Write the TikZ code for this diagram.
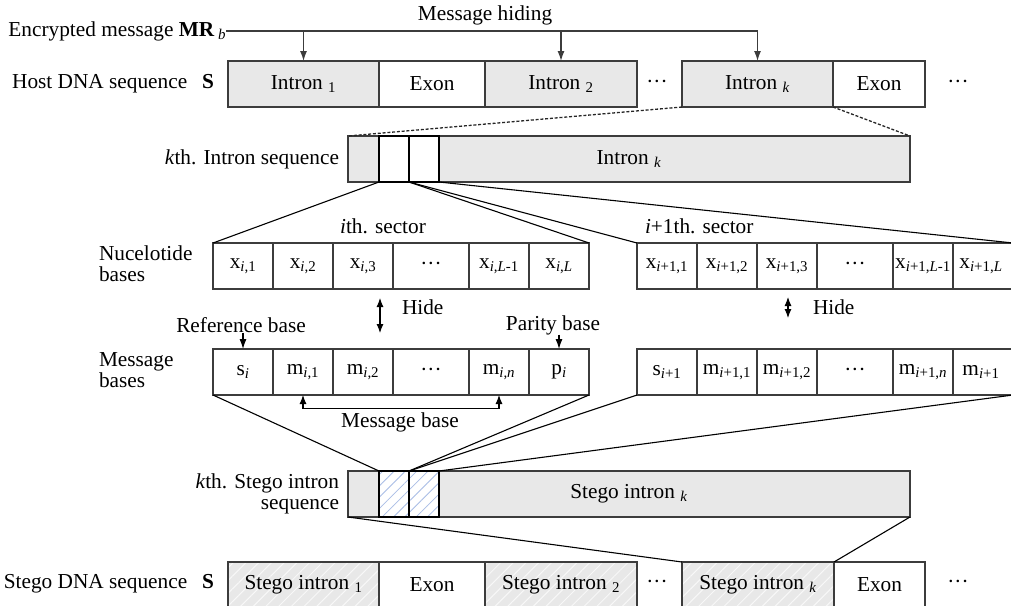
\documentclass[tikz,border=0pt]{standalone}
\usepackage{fontspec}
\setmainfont{Liberation Serif}
\usetikzlibrary{arrows.meta,patterns.meta}
\definecolor{introngray}{HTML}{E8E8E8}
\definecolor{edgegray}{HTML}{3C3C3C}
\definecolor{hatchblue}{HTML}{A9BDE6}
\definecolor{stripe}{HTML}{F8F8F8}
\newcommand{\hdots}{\char"B7\char"B7\char"B7}

\begin{document}
\begin{tikzpicture}[x=1pt,y=-1pt]
  \tikzstyle{every node}+=[inner sep=0pt, outer sep=0pt, font=\fontsize{21.3}{21}\selectfont]
  \tikzstyle{cell}=[draw=edgegray, line width=1.4pt, fill=white, anchor=north west, minimum height=46pt]
  \tikzstyle{intron}=[cell, fill=introngray]
  \tikzstyle{stegointron}=[cell, preaction={fill=introngray}, pattern={Lines[angle=45,distance=9pt,line width=1pt]}, pattern color=stripe]
  \tikzstyle{slot}=[cell, draw=black, line width=2.4pt, minimum width=30pt]
  \tikzstyle{stegoslot}=[slot, preaction={fill=white}, pattern={Lines[angle=45,distance=8pt,line width=0.8pt]}, pattern color=hatchblue]
  \tikzstyle{tip}=[-{Latex[length=10pt,width=7pt]}]
  \tikzstyle{twotips}=[{Latex[length=9pt,width=7pt]}-{Latex[length=9pt,width=7pt]}]
  \tikzstyle{link}=[black, line width=1.1pt]
  \useasboundingbox (0,0) rectangle (1011,605);
  % host DNA
  \draw (226,31) node[anchor=east] (enc) {Encrypted message \textbf{MR}\,\textsubscript{\textit{b}}};
  \draw (485,15) node (hiding) {Message hiding};
  \draw (214,84) node[anchor=east] (host) {Host DNA sequence\hspace{0.7em}\textbf{S}};
  \draw (228,61) node[intron, minimum width=151pt] (int1) {Intron \textsubscript{1}};
  \draw (379,61) node[cell, minimum width=106pt] (ex1) {Exon};
  \draw (485,61) node[intron, minimum width=152pt] (int2) {Intron \textsubscript{2}};
  \draw (657,84) node (hdots1) {\hdots};
  \draw (682,61) node[intron, minimum width=151pt] (intk) {Intron \textsubscript{\textit{k}}};
  \draw (833,61) node[cell, minimum width=92pt] (ex2) {Exon};
  \draw (958,84) node (hdots2) {\hdots};
  \draw [edgegray, line width=1.3pt, tip] (enc.east) -| (intk.north);
  \draw [edgegray, line width=1.3pt, tip] (int1.north |- enc.east) -- (int1.north);
  \draw [edgegray, line width=1.3pt, tip] (int2.north |- enc.east) -- (int2.north);
  % kth intron
  \draw (339,159) node[anchor=east] (kname) {\textit{k}th. Intron sequence};
  \draw (348,136) node[intron, minimum width=562pt] (kseq) {Intron \textsubscript{\textit{k}}};
  \draw (379,136) node[slot] (kb1) {};
  \draw (409,136) node[slot] (kb2) {};
  \draw [black!85, line width=1.3pt, dash pattern=on 3pt off 1.8pt] (intk.south west) -- (kseq.north west);
  \draw [black!85, line width=1.3pt, dash pattern=on 3pt off 1.8pt] (intk.south east) -- (kseq.north east);
  % sectors
  \draw (99,264) node[anchor=west, align=left] (nname) {Nucelotide\\bases};
  \draw (99,370) node[anchor=west, align=left] (mname) {Message\\bases};
  \draw (383,226) node (seca) {\textit{i}th. sector};
  \draw (645,226) node[anchor=west] (secb) {\textit{i}+1th. sector};
  \draw (213,243) node[cell, minimum width=60pt] (xa1) {x\textsubscript{\textit{i},1}};
  \draw (273,243) node[cell, minimum width=60pt] (xa2) {x\textsubscript{\textit{i},2}};
  \draw (333,243) node[cell, minimum width=60pt] (xa3) {x\textsubscript{\textit{i},3}};
  \draw (393,243) node[cell, minimum width=76pt] (xa4) {\hdots};
  \draw (469,243) node[cell, minimum width=60pt] (xa5) {x\textsubscript{\textit{i},\textit{L}-1}};
  \draw (529,243) node[cell, minimum width=60pt] (xa6) {x\textsubscript{\textit{i},\textit{L}}};
  \draw (637,243) node[cell, minimum width=60pt] (xb1) {x\textsubscript{\textit{i}+1,1}};
  \draw (697,243) node[cell, minimum width=60pt] (xb2) {x\textsubscript{\textit{i}+1,2}};
  \draw (757,243) node[cell, minimum width=60pt] (xb3) {x\textsubscript{\textit{i}+1,3}};
  \draw (817,243) node[cell, minimum width=76pt] (xb4) {\hdots};
  \draw (893,243) node[cell, minimum width=60pt] (xb5) {x\textsubscript{\textit{i}+1,\textit{L}-1}};
  \draw (953,243) node[cell, minimum width=60pt] (xb6) {\hspace{-4pt}x\textsubscript{\textit{i}+1,\textit{L}}};
  \draw (213,349) node[cell, minimum width=60pt] (ma1) {s\textsubscript{\textit{i}}};
  \draw (273,349) node[cell, minimum width=60pt] (ma2) {m\textsubscript{\textit{i},1}};
  \draw (333,349) node[cell, minimum width=60pt] (ma3) {m\textsubscript{\textit{i},2}};
  \draw (393,349) node[cell, minimum width=76pt] (ma4) {\hdots};
  \draw (469,349) node[cell, minimum width=60pt] (ma5) {m\textsubscript{\textit{i},\textit{n}}};
  \draw (529,349) node[cell, minimum width=60pt] (ma6) {p\textsubscript{\textit{i}}};
  \draw (637,349) node[cell, minimum width=60pt] (mb1) {s\textsubscript{\textit{i}+1}};
  \draw (697,349) node[cell, minimum width=60pt] (mb2) {m\textsubscript{\textit{i}+1,1}};
  \draw (757,349) node[cell, minimum width=60pt] (mb3) {m\textsubscript{\textit{i}+1,2}};
  \draw (817,349) node[cell, minimum width=76pt] (mb4) {\hdots};
  \draw (893,349) node[cell, minimum width=60pt] (mb5) {m\textsubscript{\textit{i}+1,\textit{n}}};
  \draw (953,349) node[cell, minimum width=60pt] (mb6) {\hspace{-4pt}m\textsubscript{\textit{i}+1}};
  \draw [link] (kb1.south west) -- (xa1.north west);
  \draw [link] (kb1.south east) -- (xa6.north east);
  \draw [link] (kb2.south west) -- (xb1.north west);
  \draw [link] (kb2.south east) -- (xb6.north east);
  % hide arrows and base labels
  \coordinate (hidea1) at (380,298);
  \coordinate (hidea2) at (380,333);
  \coordinate (hideb1) at (788,297);
  \coordinate (hideb2) at (788,318);
  \draw [link, twotips] (hidea1) -- (hidea2);
  \draw [link, twotips] (hideb1) -- (hideb2);
  \draw (402,307) node[anchor=west] (hidea) {Hide};
  \draw (813,307) node[anchor=west] (hideb) {Hide};
  \draw (241,325) node (refb) {Reference base};
  \draw (553,325) node (parb) {Parity base};
  \draw [link, tip] (refb.south -| ma1.north) -- (ma1.north);
  \draw [link, tip] (parb.south -| ma6.north) -- (ma6.north);
  \draw [link, twotips] (ma2.south) -- ++(0,13.5) -| (ma5.south);
  \draw (400,422) node (msgb) {Message base};
  % stego intron
  \draw (339,494) node[anchor=east, align=right] (sname) {\textit{k}th. Stego intron\\sequence};
  \draw (348,471) node[intron, minimum width=562pt] (kstego) {Stego intron \textsubscript{\textit{k}}};
  \draw (379,471) node[stegoslot] (sb1) {};
  \draw (409,471) node[stegoslot] (sb2) {};
  \draw [link] (ma1.south west) -- (sb1.north west);
  \draw [link] (ma6.south east) -- (sb1.north east);
  \draw [link] (mb1.south west) -- (sb2.north west);
  \draw [link] (mb6.south east) -- (sb2.north east);
  % stego DNA
  \draw (214,584) node[anchor=east] (stego) {Stego DNA sequence\hspace{0.7em}\textbf{S}};
  \draw (228,562) node[stegointron, minimum width=151pt] (sint1) {Stego intron \textsubscript{1}};
  \draw (379,562) node[cell, minimum width=106pt] (sex1) {Exon};
  \draw (485,562) node[stegointron, minimum width=152pt] (sint2) {Stego intron \textsubscript{2}};
  \draw (657,584) node (sdots1) {\hdots};
  \draw (682,562) node[stegointron, minimum width=152pt] (sintk) {Stego intron \textsubscript{\textit{k}}};
  \draw (834,562) node[cell, minimum width=91pt] (sex2) {Exon};
  \draw (958,584) node (sdots2) {\hdots};
  \draw [link] (kstego.south west) -- (sintk.north west);
  \draw [link] (kstego.south east) -- (sintk.north east);
\end{tikzpicture}
\end{document}
